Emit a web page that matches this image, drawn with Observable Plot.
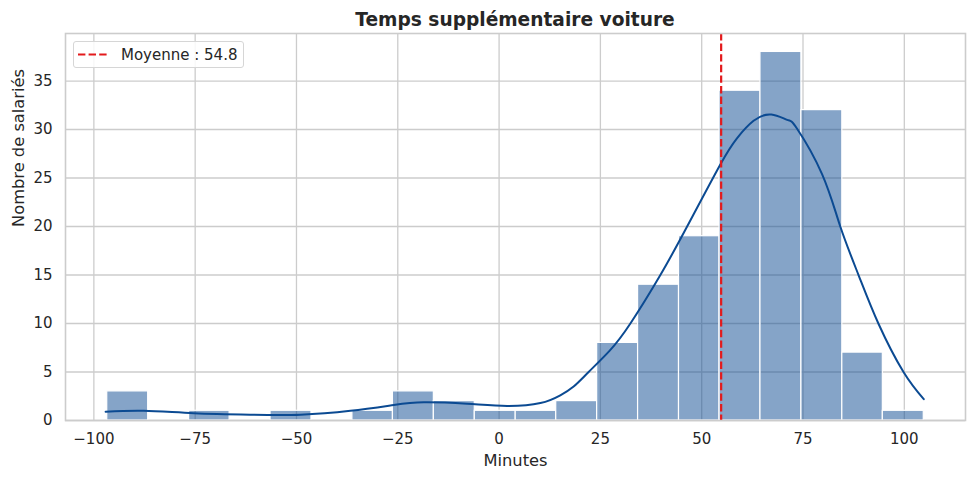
<!DOCTYPE html>
<html><head><meta charset="utf-8">
<script src="https://cdn.jsdelivr.net/npm/d3@7"></script>
<script src="https://cdn.jsdelivr.net/npm/@observablehq/plot@0.6"></script>
<style>
body{margin:0;background:#fff;font-family:"DejaVu Sans",sans-serif;}
#wrap{position:relative;width:975px;height:480px;overflow:hidden;}
#title{position:absolute;left:65px;width:900px;top:5px;height:30px;text-align:center;font-weight:bold;font-size:18.6px;color:#262626;line-height:30px;}
#chart{position:absolute;left:0;top:30px;}
#legend{position:absolute;left:73px;top:41px;width:171px;height:27px;box-sizing:border-box;border:1px solid #d6d6d6;border-radius:3px;background:rgba(255,255,255,0.85);}
</style></head>
<body>
<div id="wrap">
  <div id="title">Temps supplémentaire voiture</div>
  <div id="chart"></div>
  <div id="legend"></div>
</div>
<script>
const edges = [-96.7, -86.6, -76.5, -66.5, -56.4, -46.3, -36.2, -26.2, -16.1, -6.0, 4.1, 14.1, 24.2, 34.3, 44.4, 54.4, 64.5, 74.6, 84.7, 94.7, 104.8];
const counts = [3, 0, 1, 0, 1, 0, 1, 3, 2, 1, 1, 2, 8, 14, 19, 34, 38, 32, 7, 1];
const kdeX = [-97.1, -87.7, -75.3, -61.3, -49.0, -36.7, -26.0, -18.6, -7.9, 2.0, 10.2, 15.1, 18.4, 22.1, 27.3, 32.4, 39.8, 46.4, 54.6, 58.7, 62.8, 67.2, 71.1, 73.5, 79.7, 84.2, 88.7, 93.6, 99.8, 104.8];
const kdeY = [0.9, 1.0, 0.75, 0.6, 0.6, 1.0, 1.6, 1.87, 1.72, 1.5, 1.8, 2.6, 3.5, 5.0, 7.2, 10.0, 15.0, 20.0, 26.4, 29.1, 30.9, 31.55, 31.0, 30.1, 25.4, 20.0, 15.0, 10.0, 5.0, 2.2];
const meanValue = 54.8;
const xTicks = [-100, -75, -50, -25, 0, 25, 50, 75, 100];
const yTicks = [0, 5, 10, 15, 20, 25, 30, 35];
const legendLabel = "Moyenne : 54.8";

const bins = counts.map((c, i) => ({x1: edges[i], x2: edges[i + 1], count: c})).filter(d => d.count > 0);
const kde = kdeX.map((x, i) => ({x, y: kdeY[i]}));
const color = "#0b4a92";
const red = "#e31a1c";
const grid = "#cccccc";

const plot = Plot.plot({
  width: 975, height: 450,
  marginTop: 3, marginBottom: 60, marginLeft: 65, marginRight: 10,
  style: {fontFamily: "DejaVu Sans", fontSize: "15px", color: "#262626", background: "white"},
  x: {domain: [-107, 115.1]},
  y: {domain: [0, 39.9]},
  marks: [
    Plot.gridX(xTicks, {stroke: grid, strokeOpacity: 1, strokeWidth: 1.3}),
    Plot.gridY(yTicks, {stroke: grid, strokeOpacity: 1, strokeWidth: 1.3}),
    Plot.rect(bins, {x1: "x1", x2: "x2", y1: 0, y2: "count", fill: color, fillOpacity: 0.5, stroke: "white", strokeWidth: 1.2}),
    Plot.line(kde, {x: "x", y: "y", stroke: color, strokeWidth: 2, curve: "natural"}),
    Plot.ruleX([meanValue], {stroke: red, strokeWidth: 2.2, strokeDasharray: "7.4,3.2"}),
    Plot.frame({stroke: grid, strokeWidth: 1.6}),
    Plot.axisX(xTicks, {tickSize: 0, tickPadding: 13, label: null, tickFormat: d3.format("d")}),
    Plot.axisY(yTicks, {tickSize: 0, tickPadding: 13, label: null, tickFormat: d3.format("d")}),
    Plot.text(["Minutes"], {frameAnchor: "bottom", dy: 45, fontSize: 16.3, lineAnchor: "bottom", fill: "#262626"}),
    Plot.text(["Nombre de salariés"], {frameAnchor: "left", dx: -46.5, rotate: -90, fontSize: 16.3, fill: "#262626"})
  ]
});
document.getElementById("chart").appendChild(plot);

const lg = d3.select("#legend").append("svg").attr("width", 169).attr("height", 25)
  .style("font-family", "DejaVu Sans").style("font-size", "15px");
lg.append("line").attr("x1", 4).attr("x2", 34).attr("y1", 12.5).attr("y2", 12.5)
  .attr("stroke", red).attr("stroke-width", 2.2).attr("stroke-dasharray", "7.4,3.2");
lg.append("text").attr("x", 47).attr("y", 17.5).attr("fill", "#262626").text(legendLabel);
</script>
</body></html>
